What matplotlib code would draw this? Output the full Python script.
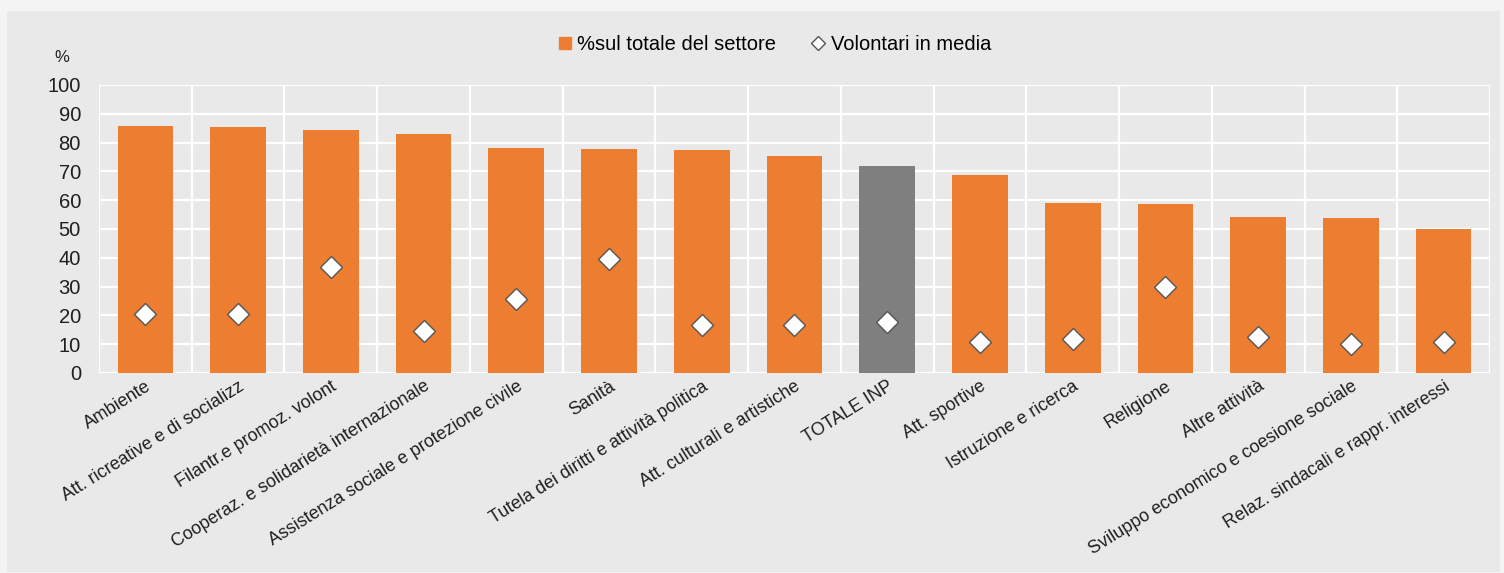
import matplotlib.pyplot as plt
from matplotlib.patches import Rectangle
from matplotlib.lines import Line2D

categories = [
    "Ambiente", "Att. ricreative e di socializz", "Filantr.e promoz. volont",
    "Cooperaz. e solidarietà internazionale", "Assistenza sociale e protezione civile",
    "Sanità", "Tutela dei diritti e attività politica", "Att. culturali e artistiche",
    "TOTALE INP", "Att. sportive", "Istruzione e ricerca", "Religione",
    "Altre attività", "Sviluppo economico e coesione sociale",
    "Relaz. sindacali e rappr. interessi",
]
pct_settore = [85.7, 85.3, 84.5, 82.9, 78.1, 77.8, 77.4, 75.3, 71.9, 68.6,
               59.1, 58.7, 54.2, 53.8, 50.0]
volontari = [20.5, 20.5, 36.8, 14.6, 25.7, 39.6, 16.7, 16.7, 17.8, 10.8,
             11.8, 29.9, 12.6, 10.1, 10.8]
yticks = list(range(0, 101, 10))

ORANGE = "#ED7D31"
GREY = "#7F7F7F"
plt.rcParams["font.family"] = ["Liberation Sans", "DejaVu Sans"]

fig = plt.figure(figsize=(15.04, 5.73), dpi=100, facecolor="#f4f4f4")
W, H = 1504, 573
# inner grey panel
fig.patches.append(Rectangle((7 / W, 1 / H), 1493 / W, 561 / H, transform=fig.transFigure,
                             facecolor="#e9e9e9", edgecolor="none", zorder=0))

ax = fig.add_axes([99 / W, 1 - 373 / H, (1490 - 99) / W, (373 - 85) / H], zorder=2)
ax.patch.set_alpha(0)

n = len(categories)
x = list(range(n))
colors = [GREY if c == "TOTALE INP" else ORANGE for c in categories]
ax.bar(x, pct_settore, width=0.6, color=colors, zorder=2)
ax.plot(x, volontari, linestyle="none", marker="D", markersize=11,
        markerfacecolor="white", markeredgecolor="#555555", markeredgewidth=1, zorder=3)

ax.set_xlim(-0.5, n - 0.5)
ax.set_ylim(0, 100)
ax.set_yticks(yticks)
ax.set_yticklabels([str(v) for v in yticks], fontsize=14.5, color="#1f1f1f")
ax.tick_params(axis="y", length=0, pad=13)
ax.tick_params(axis="x", length=0)

# white grid: horizontal at ticks, vertical at category boundaries
for v in yticks:
    ax.axhline(v, color="white", lw=1.6, zorder=1)
for b in range(n + 1):
    ax.axvline(b - 0.5, color="white", lw=1.6, zorder=1)
for s in ax.spines.values():
    s.set_visible(False)

ax.set_xticks(x)
ax.set_xticklabels(categories, rotation=32, ha="right", va="top",
                   rotation_mode="anchor", fontsize=12.9, color="#1f1f1f")

fig.text(62 / W, 1 - 57 / H, "%", fontsize=12, ha="center", va="center", color="#1f1f1f")

handles = [
    Line2D([], [], linestyle="none", marker="s", markersize=9, markerfacecolor=ORANGE,
           markeredgecolor=ORANGE, label="%sul totale del settore"),
    Line2D([], [], linestyle="none", marker="D", markersize=7, markerfacecolor="white",
           markeredgecolor="#555555", label="Volontari in media"),
]
fig.legend(handles=handles, loc="center", bbox_to_anchor=(775 / W, 1 - 45 / H), ncol=2,
           frameon=False, fontsize=14.5, handlelength=0.6, handletextpad=0.3,
           columnspacing=1.8)

fig.savefig("out.png", dpi=100, facecolor=fig.get_facecolor())
